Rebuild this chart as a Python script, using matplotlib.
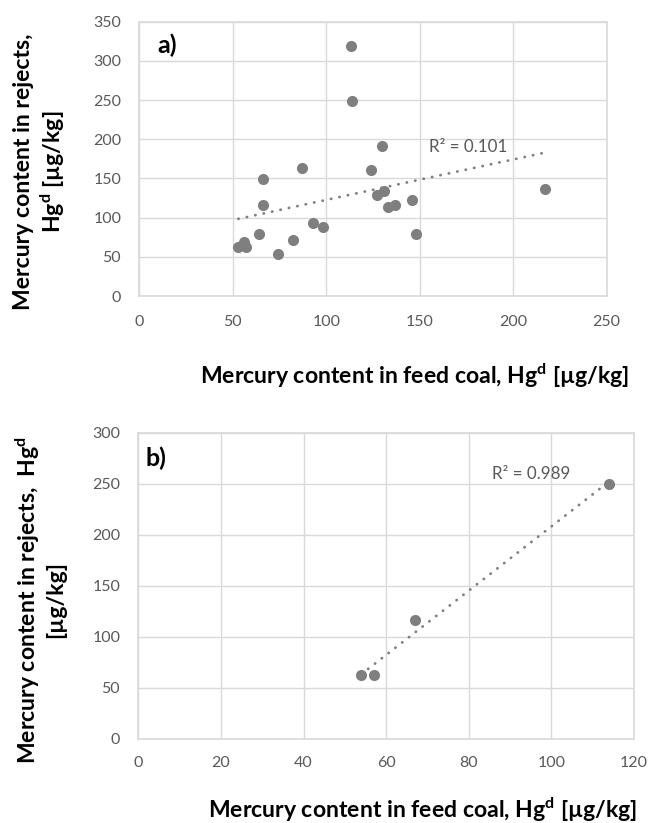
import numpy as np
from matplotlib import pyplot as plt

plt.rcParams['font.family'] = ['Lato', 'DejaVu Sans']
plt.rcParams['mathtext.default'] = 'regular'

# a) all samples
feed_a = [113, 114, 130, 87, 124, 66, 217, 131, 127, 146, 66, 137, 133,
          93, 98, 64, 148, 82, 56, 53, 57, 74]
rej_a = [319, 249, 191, 163, 161, 149, 137, 134, 129, 122, 116, 116, 114,
         93, 88, 79, 79, 72, 69, 62, 62, 54]

# b) selected samples
feed_b = [114, 67, 54, 57]
rej_b = [250, 117, 63, 63]

W, H = 648, 823
fig = plt.figure(figsize=(W / 100, H / 100), dpi=100)
rend = fig.canvas.get_renderer()

grau = '#7f7f7f'
grid = '#d9d9d9'
txt = '#595959'


def box(l, t, r, b):
    return [l / W, 1 - b / H, (r - l) / W, (b - t) / H]


def ajusta(t, largura):
    # scale font so the text spans the given pixel width
    bb = t.get_window_extent(rend)
    lado = bb.width if t.get_rotation() == 0 else bb.height
    t.set_fontsize(t.get_fontsize() * largura / lado)


def estilo(ax, xpad, ypad):
    ax.grid(True, color=grid, linewidth=1)
    ax.set_axisbelow(True)
    for s in ax.spines.values():
        s.set_color(grid)
        s.set_linewidth(1.2)
    ax.tick_params(length=0, labelsize=11.5, labelcolor=txt)
    ax.tick_params(axis='x', pad=xpad)
    ax.tick_params(axis='y', pad=ypad)


def grafico(ax, x, y):
    ax.scatter(x, y, s=64, color=grau, zorder=3, linewidths=0)
    k, d = np.polyfit(x, y, 1)
    xs = np.array([min(x), max(x)])
    ax.plot(xs, k * xs + d, color=grau, linewidth=2,
            linestyle=(0, (0.1, 3.0)), dash_capstyle='round', zorder=2)


ax1 = fig.add_axes(box(139.3, 21.7, 606.7, 296))
grafico(ax1, feed_a, rej_a)
ax1.set_xlim(0, 250)
ax1.set_ylim(0, 350)
ax1.set_xticks(range(0, 251, 50))
ax1.set_yticks(range(0, 351, 50))
estilo(ax1, 14, 13)
ax1.text(0.038, 0.915, 'a)', transform=ax1.transAxes, fontsize=18,
         fontweight='bold', va='center')
r1 = ax1.text(155, 190, 'R² = 0.101', color=txt, fontsize=10, va='center')
ajusta(r1, 78)

ax2 = fig.add_axes(box(138.3, 432.7, 634, 739))
grafico(ax2, feed_b, rej_b)
ax2.set_xlim(0, 120)
ax2.set_ylim(0, 300)
ax2.set_xticks(range(0, 121, 20))
ax2.set_yticks(range(0, 301, 50))
estilo(ax2, 12, 13)
ax2.text(0.015, 0.915, 'b)', transform=ax2.transAxes, fontsize=18,
         fontweight='bold', va='center')
r2 = ax2.text(85.7, 259.5, 'R² = 0.989', color=txt, fontsize=10, va='center')
ajusta(r2, 78)

lab = dict(fontsize=12, fontweight='bold', ha='center', va='center',
           multialignment='center')
xl1 = fig.text(415 / W, 1 - 376 / H,
               'Mercury content in feed coal, Hg$^d$ [µg/kg]', **lab)
ajusta(xl1, 430)
lab['fontsize'] = xl1.get_fontsize()
fig.text(40 / W, 1 - 172 / H, 'Mercury content in rejects,\nHg$^d$ [µg/kg]',
         rotation=90, **lab)
fig.text(40 / W, 1 - 600 / H, 'Mercury content in rejects,  Hg$^d$\n[µg/kg]',
         rotation=90, **lab)
fig.text(423 / W, 1 - 810 / H,
         'Mercury content in feed coal, Hg$^d$ [µg/kg]', **lab)

plt.savefig('out.png', dpi=100)
plt.close(fig)
